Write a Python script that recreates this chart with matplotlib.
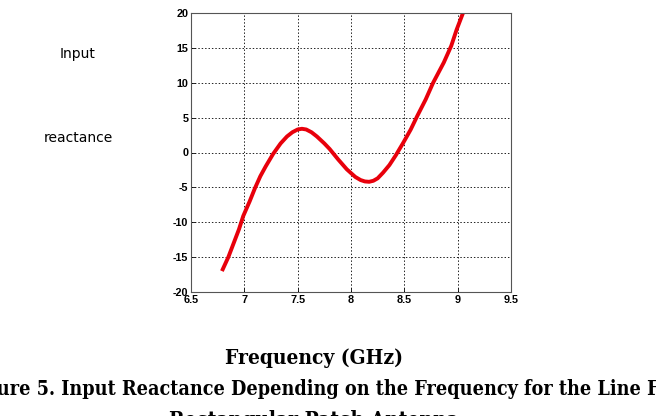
import numpy as np
import matplotlib.pyplot as plt

plt.rcParams['axes.unicode_minus'] = False

# Eingangsreaktanz ueber Frequenz
freq = [6.79, 6.85, 6.90, 6.95, 6.99, 7.05, 7.10, 7.15, 7.20, 7.27, 7.34, 7.40,
        7.45, 7.50, 7.54, 7.58, 7.63, 7.68, 7.75, 7.80, 7.88, 7.96, 8.04,
        8.09, 8.13, 8.17, 8.21, 8.25, 8.30, 8.36, 8.42, 8.49, 8.56, 8.62,
        8.70, 8.77, 8.87, 8.94, 8.99, 9.05]
reactance = [-17.0, -15.0, -13.0, -11.0, -9.1, -7.0, -5.1, -3.4, -2.0, -0.2, 1.3, 2.3,
             2.9, 3.3, 3.4, 3.3, 2.9, 2.3, 1.3, 0.5, -1.0, -2.4, -3.5,
             -3.95, -4.15, -4.2, -4.05, -3.7, -2.9, -1.8, -0.4, 1.4, 3.3, 5.2,
             7.6, 10.0, 12.9, 15.3, 17.6, 20.0]

xticks = [6.5, 7, 7.5, 8, 8.5, 9, 9.5]
xlabels = ['6.5', '7', '7.5', '8', '8.5', '9', '9.5']
yticks = [-20, -15, -10, -5, 0, 5, 10, 15, 20]

fig = plt.figure(figsize=(6.56, 4.16), dpi=100)
ax = fig.add_axes([191/656, 1-292/416, 320/656, 279/416])

ax.plot(freq, reactance, color='#e8000b', lw=2.8, solid_capstyle='butt',
        solid_joinstyle='round')

ax.set_xlim(6.5, 9.5)
ax.set_ylim(-20, 20)
ax.set_xticks(xticks)
ax.set_xticklabels(xlabels)
ax.set_yticks(yticks)
ax.grid(True, color='#222222', linestyle=(0, (1.5, 2)), linewidth=0.7)
ax.tick_params(direction='in', length=3, width=0.6, labelsize=7.8, pad=2)
for lab in ax.get_xticklabels() + ax.get_yticklabels():
    lab.set_fontweight('bold')
    lab.set_family('Liberation Sans')
for s in ax.spines.values():
    s.set_color('#555555')
    s.set_linewidth(0.8)

fig.text(78/656, 1-58/416, 'Input', ha='center', va='baseline', fontsize=10, family='DejaVu Sans')
fig.text(78/656, 1-142/416, 'reactance', ha='center', va='baseline', fontsize=10, family='DejaVu Sans')

cap = dict(family='DejaVu Serif', fontweight='bold', fontstretch='condensed', ha='center', va='baseline')
fig.text(314/656, 1-364/416, 'Frequency (GHz)', fontsize=15, **cap)
fig.text(324/656, 1-395/416, 'Figure 5. Input Reactance Depending on the Frequency for the Line Fed',
         fontsize=14.1, **cap)
fig.text(314/656, 1-426/416, 'Rectangular Patch Antenna', fontsize=15, **cap)

plt.savefig('out.png', dpi=100)
